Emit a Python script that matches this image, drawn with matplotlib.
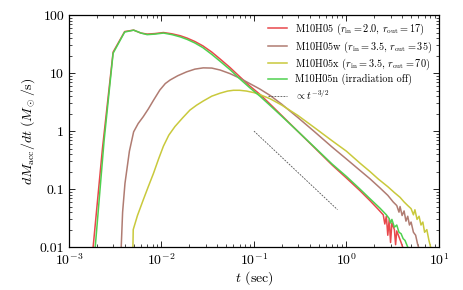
import numpy as np
import matplotlib
matplotlib.use("Agg")
import matplotlib.pyplot as plt
from matplotlib.ticker import LogLocator, NullFormatter

plt.rcParams["font.family"] = "serif"
plt.rcParams["font.serif"] = ["cmr10", "DejaVu Serif"]
plt.rcParams["mathtext.fontset"] = "cm"
plt.rcParams["axes.formatter.use_mathtext"] = True
plt.rcParams["axes.unicode_minus"] = False

# ── data ────────────────────────────────────────────────────
t_red = [1.8e-3, 2.3e-3, 3.0e-3, 4.0e-3, 5.0e-3, 6.0e-3, 7.0e-3, 8.5e-3, 1.05e-2,
         1.3e-2, 1.6e-2, 1.9e-2, 2.3e-2, 2.8e-2, 3.5e-2, 4.3e-2, 5.5e-2, 7.0e-2,
         9.0e-2, 0.116, 0.15, 0.2, 0.3, 0.45, 0.7, 1.0, 1.4, 1.8, 2.2, 2.5, 2.6,
         2.7, 2.8, 2.9, 3.0, 3.1, 3.3, 3.4, 3.5, 3.7, 3.9, 4.1, 4.3]
m_red = [0.008, 0.5, 23, 52, 55, 49, 47, 48, 50,
         47.5, 44, 40, 35, 29.5, 23, 17.5, 12.5, 8.7,
         6.0, 4.3, 2.9, 1.85, 0.98, 0.52, 0.26, 0.155, 0.094, 0.063, 0.045, 0.036, 0.025,
         0.034, 0.016, 0.03, 0.012, 0.026, 0.02, 0.011, 0.019, 0.015, 0.012, 0.0095, 0.008]

t_brown = [3.65e-3, 3.8e-3, 4.03e-3, 4.5e-3, 5.0e-3, 5.6e-3, 6.35e-3, 7.2e-3, 8.2e-3,
           9.6e-3, 1.1e-2, 1.24e-2, 1.5e-2, 1.87e-2, 2.3e-2, 2.83e-2, 3.5e-2, 4.3e-2,
           5.5e-2, 7.1e-2, 9.0e-2, 0.116, 0.15, 0.2, 0.3, 0.45, 0.7, 1.0, 1.4, 1.8,
           2.3, 2.8, 3.2, 3.5, 3.7, 3.8, 4.0, 4.2, 4.4, 4.6, 4.8, 5.0, 5.3, 5.6, 5.9, 6.3]
m_brown = [0.008, 0.04, 0.125, 0.45, 0.97, 1.35, 1.77, 2.4, 3.4,
           5.1, 6.6, 7.6, 9.0, 10.5, 11.7, 12.3, 12.2, 11.3,
           9.8, 8.1, 6.6, 5.3, 4.1, 2.9, 1.7, 0.98, 0.53, 0.33, 0.21, 0.15,
           0.105, 0.078, 0.06, 0.052, 0.04, 0.05, 0.035, 0.042, 0.028, 0.034, 0.024, 0.027,
           0.018, 0.016, 0.011, 0.008]

t_yel = [4.9e-3, 4.95e-3, 5.5e-3, 6.35e-3, 7.2e-3, 8.2e-3, 9.3e-3, 1.05e-2, 1.2e-2,
         1.4e-2, 1.7e-2, 2.03e-2, 2.4e-2, 2.83e-2, 3.5e-2, 4.3e-2, 5.2e-2, 6.0e-2,
         7.0e-2, 8.3e-2, 0.1, 0.116, 0.15, 0.2, 0.3, 0.45, 0.7, 1.0, 1.4, 1.8, 2.2,
         2.8, 3.3, 3.8, 4.2, 4.6, 5.0, 5.3, 5.5, 5.8, 6.1, 6.4, 6.7, 7.0, 7.4, 7.8, 8.2, 8.5]
m_yel = [0.008, 0.02, 0.035, 0.065, 0.11, 0.187, 0.33, 0.55, 0.85,
         1.2, 1.7, 2.3, 2.8, 3.3, 4.0, 4.5, 4.9, 5.05,
         5.05, 4.9, 4.6, 4.25, 3.6, 2.8, 1.85, 1.15, 0.68, 0.45, 0.28, 0.2, 0.15,
         0.11, 0.087, 0.072, 0.06, 0.052, 0.046, 0.036, 0.044, 0.03, 0.034, 0.024, 0.027,
         0.018, 0.02, 0.013, 0.0095, 0.008]

t_green = [1.9e-3, 2.4e-3, 3.0e-3, 4.0e-3, 5.0e-3, 6.0e-3, 7.0e-3, 8.5e-3, 1.05e-2,
           1.3e-2, 1.6e-2, 1.9e-2, 2.3e-2, 2.8e-2, 3.5e-2, 4.3e-2, 5.5e-2, 7.0e-2,
           9.0e-2, 0.116, 0.15, 0.2, 0.3, 0.45, 0.7, 1.0, 1.4, 1.8, 2.3, 2.7, 2.9,
           3.0, 3.1, 3.3, 3.5, 3.7, 3.9, 4.1, 4.3, 4.6, 4.8]
m_green = [0.008, 0.7, 22, 51, 55, 49, 46, 47, 49,
           46, 42, 38, 33, 27.5, 21, 16, 11.5, 8.0,
           5.6, 4.0, 2.75, 1.8, 0.98, 0.53, 0.27, 0.165, 0.1, 0.068, 0.047, 0.036, 0.031,
           0.026, 0.03, 0.022, 0.024, 0.018, 0.017, 0.014, 0.013, 0.01, 0.008]

labels = [r"M10H05 ($r_{\rm in}=2.0$, $r_{\rm out}=17$)",
          r"M10H05w ($r_{\rm in}=3.5$, $r_{\rm out}=35$)",
          r"M10H05x ($r_{\rm in}=3.5$, $r_{\rm out}=70$)",
          r"M10H05n (irradiation off)"]
colors = ["#e8484b", "#b07c72", "#c9c93c", "#4fd14f"]

# power-law guide, t^{-3/2} normalised to 1 at t = 0.1
t_guide = np.array([0.1, 0.8])
m_guide = (t_guide / 0.1) ** -1.5

# ── plot ────────────────────────────────────────────────────
fig = plt.figure(figsize=(4.63, 2.90), dpi=100)
ax = fig.add_axes([0.149, 0.148, 0.799, 0.800])

series = [(t_red, m_red), (t_brown, m_brown), (t_yel, m_yel), (t_green, m_green)]
for (t, m), c, lab in zip(series, colors, labels):
    ax.plot(t, m, color=c, lw=1.1, label=lab)
ax.plot(t_guide, m_guide, color="#555555", lw=0.6, ls=(0, (2.2, 1.4)),
        label=r"$\propto t^{-3/2}$")

ax.set_xscale("log"); ax.set_yscale("log")
ax.set_xlim(1e-3, 1e1)
ax.set_ylim(1e-2, 1e2)
ax.set_yticks([0.01, 0.1, 1, 10, 100], ["0.01", "0.1", "1", "10", "100"])
ax.yaxis.set_minor_locator(LogLocator(base=10, subs=np.arange(2, 10)))
ax.xaxis.set_minor_locator(LogLocator(base=10, subs=np.arange(2, 10)))
ax.yaxis.set_minor_formatter(NullFormatter())
ax.xaxis.set_minor_formatter(NullFormatter())
ax.tick_params(which="both", direction="in", top=True, right=True, labelsize=10)
ax.tick_params(which="major", length=4, width=0.6)
ax.tick_params(which="minor", length=2, width=0.5)
for s in ax.spines.values():
    s.set_linewidth(0.9)

ax.set_xlabel(r"$t$ (sec)", fontsize=10, labelpad=1)
ax.set_ylabel(r"$dM_{\rm acc}/dt\ (M_\odot/{\rm s})$", fontsize=10, labelpad=2)

ax.legend(loc="upper right", frameon=False, fontsize=7.4, handlelength=1.8,
          labelspacing=0.2, handletextpad=0.8, borderaxespad=0.25)

fig.savefig("out.png", dpi=100)
